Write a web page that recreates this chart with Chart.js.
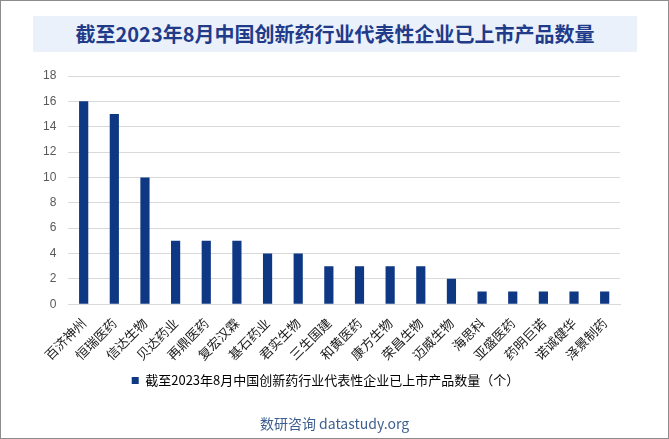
<!DOCTYPE html>
<html>
<head>
<meta charset="utf-8">
<script src="https://cdn.jsdelivr.net/npm/chart.js@4.4.0/dist/chart.umd.min.js"></script>
<style>
	html, body { margin: 0; padding: 0; background: #fff; }
	#frame {
		position: relative; width: 667px; height: 437px;
		border: 1px solid #8c8c8c; background: #fff; overflow: hidden;
	}
	#title {
		position: absolute; left: 32px; top: 15px; width: 604px; height: 36px;
		background: #eaf1fb; color: #1f3b8a;
		font: bold 20px "Noto Sans CJK SC", sans-serif;
		line-height: 36px; text-align: center;
	}
	#footer {
		position: absolute; left: 0; width: 667px; top: 412px;
		text-align: center; color: #3d5f8e;
		font: 14px "Noto Sans CJK SC", "Open Sans", sans-serif;
	}
	#chart { position: absolute; left: 0; top: 0; }
</style>
</head>
<body>
<div id="frame">
	<canvas id="chart" width="667" height="437"></canvas>
	<div id="title">截至2023年8月中国创新药行业代表性企业已上市产品数量</div>
	<div id="footer">数研咨询 datastudy.org</div>
</div>
<script>
// Chart data
const companies = ['百济神州', '恒瑞医药', '信达生物', '贝达药业', '再鼎医药', '复宏汉霖',
	'基石药业', '君实生物', '三生国建', '和黄医药', '康方生物', '荣昌生物',
	'迈威生物', '海思科', '亚盛医药', '药明巨诺', '诺诚健华', '泽景制药'];
const productCounts = [16, 15, 10, 5, 5, 5, 4, 4, 3, 3, 3, 3, 2, 1, 1, 1, 1, 1];
const seriesName = '截至2023年8月中国创新药行业代表性企业已上市产品数量（个）';
const yTicks = [0, 2, 4, 6, 8, 10, 12, 14, 16, 18];

const ctx = document.getElementById('chart');
new Chart(ctx, {
	type: 'bar',
	data: {
		labels: companies,
		datasets: [{
			label: seriesName,
			data: productCounts,
			backgroundColor: '#0e3784',
			barPercentage: 0.3,
			categoryPercentage: 1.0
		}]
	},
	options: {
		responsive: false,
		animation: false,
		layout: {
			padding: { top: 75, left: 30, right: 48, bottom: 41 }
		},
		plugins: {
			legend: {
				position: 'bottom',
				labels: {
					boxWidth: 7,
					boxHeight: 7,
					padding: 8,
					color: '#000',
					font: { family: '"Noto Sans CJK SC", sans-serif', size: 13 }
				}
			},
			tooltip: { enabled: false }
		},
		scales: {
			y: {
				min: 0,
				max: 18,
				afterBuildTicks: (axis) => {
					axis.ticks = yTicks.map(v => ({ value: v }));
				},
				border: { display: false },
				grid: { color: '#d9d9d9', drawTicks: false },
				ticks: {
					padding: 12,
					color: '#595959',
					font: { family: 'Arial, "Liberation Sans", sans-serif', size: 12 }
				}
			},
			x: {
				border: { display: true, color: '#d9d9d9' },
				grid: { display: false },
				ticks: {
					minRotation: 45,
					maxRotation: 45,
					autoSkip: false,
					padding: 3,
					color: '#1a1a1a',
					font: { family: '"Noto Sans CJK SC", sans-serif', size: 13 }
				}
			}
		}
	}
});
</script>
</body>
</html>
